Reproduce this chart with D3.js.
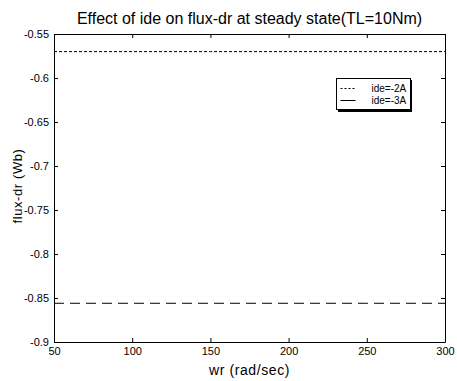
<!DOCTYPE html>
<html>
<head>
<meta charset="utf-8">
<script src="https://cdn.jsdelivr.net/npm/d3@7"></script>
<style>
  body { margin: 0; background: #fff; }
  svg { display: block; font-family: "Liberation Sans", Arial, sans-serif; }
</style>
</head>
<body>
<div id="holder"></div>
<script>
// chart data
const wr = [50, 100, 150, 200, 250, 300];
const fluxIde2 = [-0.57, -0.57, -0.57, -0.57, -0.57, -0.57];
const fluxIde3 = [-0.856, -0.856, -0.856, -0.856, -0.856, -0.856];
const xTicks = [50, 100, 150, 200, 250, 300];
const yTicks = [-0.55, -0.6, -0.65, -0.7, -0.75, -0.8, -0.85, -0.9];
const seriesNames = ["ide=-2A", "ide=-3A"];

const width = 457;
const height = 381;
const margin = { top: 34, right: 12, bottom: 39, left: 54 };
const plotW = width - margin.left - margin.right;
const plotH = height - margin.top - margin.bottom;

const svg = d3.select("#holder")
    .append("svg")
    .attr("width", width)
    .attr("height", height);

const xScale = d3.scaleLinear().domain([50, 300]).range([0, plotW]);
const yScale = d3.scaleLinear().domain([-0.9, -0.55]).range([plotH, 0]);

const g = svg.append("g")
    .attr("transform", `translate(${margin.left}, ${margin.top})`);

// axes, ticks pointing inward like matlab
const bottomAxis = d3.axisBottom(xScale).tickValues(xTicks).tickSizeInner(-4).tickSizeOuter(0).tickPadding(5);
const topAxis = d3.axisTop(xScale).tickValues(xTicks).tickSizeInner(-4).tickSizeOuter(0).tickFormat("");
const leftAxis = d3.axisLeft(yScale).tickValues(yTicks).tickSizeInner(-4).tickSizeOuter(0).tickPadding(5)
    .tickFormat(d => String(+d.toFixed(2)));
const rightAxis = d3.axisRight(yScale).tickValues(yTicks).tickSizeInner(-4).tickSizeOuter(0).tickFormat("");

g.append("g").attr("transform", `translate(0, ${plotH})`).call(bottomAxis);
g.append("g").call(topAxis);
g.append("g").call(leftAxis);
g.append("g").attr("transform", `translate(${plotW}, 0)`).call(rightAxis);

g.selectAll(".domain").attr("stroke", "#000").attr("stroke-width", 1);
g.selectAll(".tick line").attr("stroke", "#000");
g.selectAll(".tick text").attr("font-size", 11).attr("fill", "#000")
    .attr("font-family", "'Liberation Sans', Arial, sans-serif");

// series
const line = d3.line().x(d => xScale(d[0])).y(d => yScale(d[1]));

g.append("path")
    .datum(d3.zip(wr, fluxIde2))
    .attr("d", line)
    .attr("fill", "none")
    .attr("stroke", "#000")
    .attr("stroke-width", 1)
    .attr("stroke-dasharray", "3,2");

g.append("path")
    .datum(d3.zip(wr, fluxIde3))
    .attr("d", line)
    .attr("fill", "none")
    .attr("stroke", "#000")
    .attr("stroke-width", 1)
    .attr("stroke-dasharray", "10,6");

// title + labels
svg.append("text")
    .attr("x", margin.left + plotW / 2)
    .attr("y", 24)
    .attr("text-anchor", "middle")
    .attr("font-size", 16)
    .text("Effect of ide on flux-dr at steady state(TL=10Nm)");

svg.append("text")
    .attr("x", margin.left + plotW / 2)
    .attr("y", 375)
    .attr("text-anchor", "middle")
    .attr("font-size", 14)
    .attr("letter-spacing", 0.6)
    .text("wr (rad/sec)");

svg.append("text")
    .attr("transform", `translate(22, 186) rotate(-90)`)
    .attr("text-anchor", "middle")
    .attr("font-size", 13)
    .attr("letter-spacing", 0.6)
    .text("flux-dr (Wb)");

// legend
const legend = svg.append("g").attr("transform", "translate(336.5, 78.5)");
legend.append("rect")
    .attr("x", 1.5).attr("y", 1.5).attr("width", 74).attr("height", 32)
    .attr("fill", "#000");
legend.append("rect")
    .attr("x", 0).attr("y", 0).attr("width", 74).attr("height", 31)
    .attr("fill", "#fff").attr("stroke", "#000").attr("stroke-width", 1);

const dashes = ["2,2", null];
seriesNames.forEach((name, i) => {
    const yy = 10 + i * 12;
    legend.append("line")
        .attr("x1", 4).attr("x2", 19).attr("y1", yy).attr("y2", yy)
        .attr("stroke", "#000")
        .attr("stroke-dasharray", dashes[i]);
    legend.append("text")
        .attr("x", 35).attr("y", yy + 3.5)
        .attr("font-size", 10)
        .text(name);
});
</script>
</body>
</html>
